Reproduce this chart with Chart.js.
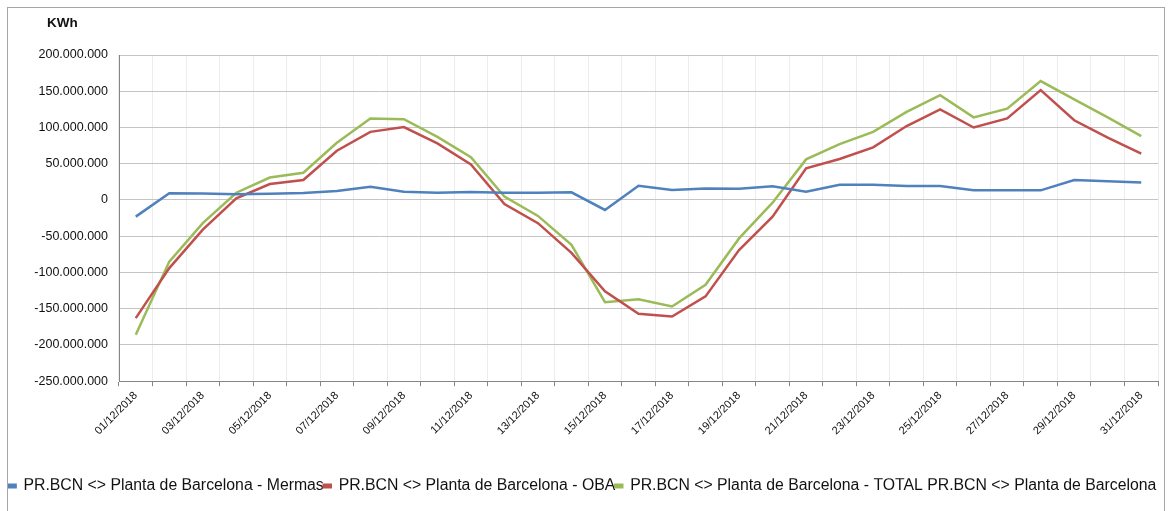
<!DOCTYPE html>
<html>
<head>
<meta charset="utf-8">
<script src="https://cdn.jsdelivr.net/npm/chart.js@4/dist/chart.umd.min.js"></script>
<style>
  html, body { margin: 0; padding: 0; background: #fff; }
  #wrap { position: absolute; left: 0; top: 0; width: 1171px; height: 511px; }
  #frame { position: absolute; left: 7px; top: 7px; width: 1158px; height: 520px; border: 1px solid #a6a6a6; box-sizing: border-box; pointer-events: none; }
  #unit { position: absolute; left: 47px; top: 15px; font: bold 13.5px "Liberation Sans", Arial, sans-serif; color: #111; }
</style>
</head>
<body>
<div id="wrap"><canvas id="chart" width="1171" height="511"></canvas></div>
<div id="frame"></div>
<div id="unit">KWh</div>
<script>
const days = [
  "01/12/2018", "02/12/2018", "03/12/2018", "04/12/2018", "05/12/2018", "06/12/2018", "07/12/2018", "08/12/2018",
  "09/12/2018", "10/12/2018", "11/12/2018", "12/12/2018", "13/12/2018", "14/12/2018", "15/12/2018", "16/12/2018",
  "17/12/2018", "18/12/2018", "19/12/2018", "20/12/2018", "21/12/2018", "22/12/2018", "23/12/2018", "24/12/2018",
  "25/12/2018", "26/12/2018", "27/12/2018", "28/12/2018", "29/12/2018", "30/12/2018", "31/12/2018"
];

// KWh
const mermas = [
  -23000000, 9200000, 9000000, 7800000, 8500000, 9600000, 12400000, 18400000,
  11500000, 10000000, 10900000, 10000000, 10000000, 10500000, -13800000, 19700000,
  13800000, 16000000, 15600000, 18800000, 11500000, 21000000, 21000000, 19300000,
  19300000, 13300000, 13300000, 13300000, 27500000, 26000000, 24000000
];
const oba = [
  -163000000, -94000000, -41000000, 2300000, 22000000, 27500000, 68000000, 94000000,
  100500000, 78000000, 49000000, -5500000, -32000000, -73000000, -126000000, -157000000,
  -160700000, -133000000, -69000000, -23000000, 43600000, 56500000, 72500000, 102000000,
  125000000, 100000000, 112500000, 151500000, 110000000, 86000000, 64000000
];
const total = [
  -186000000, -85000000, -32000000, 10000000, 31000000, 37600000, 79000000, 112500000,
  111500000, 87000000, 59000000, 4600000, -22000000, -62000000, -141000000, -137000000,
  -147000000, -117000000, -53000000, -3700000, 56000000, 77000000, 94000000, 121600000,
  144600000, 114000000, 126000000, 164000000, 138700000, 114000000, 88000000
];

const seriesNames = [
  "PR.BCN <> Planta de Barcelona - Mermas",
  "PR.BCN <> Planta de Barcelona - OBA",
  "PR.BCN <> Planta de Barcelona - TOTAL PR.BCN <> Planta de Barcelona"
];
const colors = ["#4F81BD", "#C0504D", "#9BBB59"];

const fmt = (v) => {
  const s = String(Math.abs(v)).replace(/\B(?=(\d{3})+(?!\d))/g, ".");
  return v < 0 ? "-" + s : s;
};

const ctx = document.getElementById("chart").getContext("2d");
new Chart(ctx, {
  type: "line",
  data: {
    labels: days,
    datasets: [mermas, oba, total].map((d, i) => ({
      label: seriesNames[i],
      data: d,
      borderColor: colors[i],
      backgroundColor: colors[i],
      borderWidth: 2.5,
      pointRadius: 0,
      tension: 0,
    })),
  },
  options: {
    responsive: false,
    animation: false,
    layout: { padding: { top: 55, right: 13, left: 7, bottom: 7 } },
    plugins: {
      tooltip: { enabled: false },
      legend: {
        position: "bottom",
        labels: {
          boxWidth: 7,
          boxHeight: 2.5,
          padding: 0,
          color: "#111",
          font: { family: "'Liberation Sans', Arial, sans-serif", size: 15.8 },
        },
      },
    },
    scales: {
      x: {
        offset: true,
        grid: { offset: true, color: "#ececec", tickColor: "#868686", tickLength: 5 },
        border: { color: "#868686" },
        ticks: {
          autoSkip: false,
          maxRotation: 45,
          minRotation: 45,
          padding: 3,
          color: "#111",
          font: { family: "'Liberation Sans', Arial, sans-serif", size: 11 },
          callback: (v, i) => (i % 2 === 0 ? days[i] : ""),
        },
        afterFit: (s) => { s.height = 97; },
      },
      y: {
        min: -250000000,
        max: 200000000,
        grid: { color: "#c4c4c4", drawTicks: false },
        border: { color: "#868686" },
        ticks: {
          stepSize: 50000000,
          padding: 11,
          color: "#111",
          font: { family: "'Liberation Sans', Arial, sans-serif", size: 12.5 },
          callback: (v) => fmt(v),
        },
        afterFit: (s) => { s.width = 112; },
      },
    },
  },
});
</script>
</body>
</html>
